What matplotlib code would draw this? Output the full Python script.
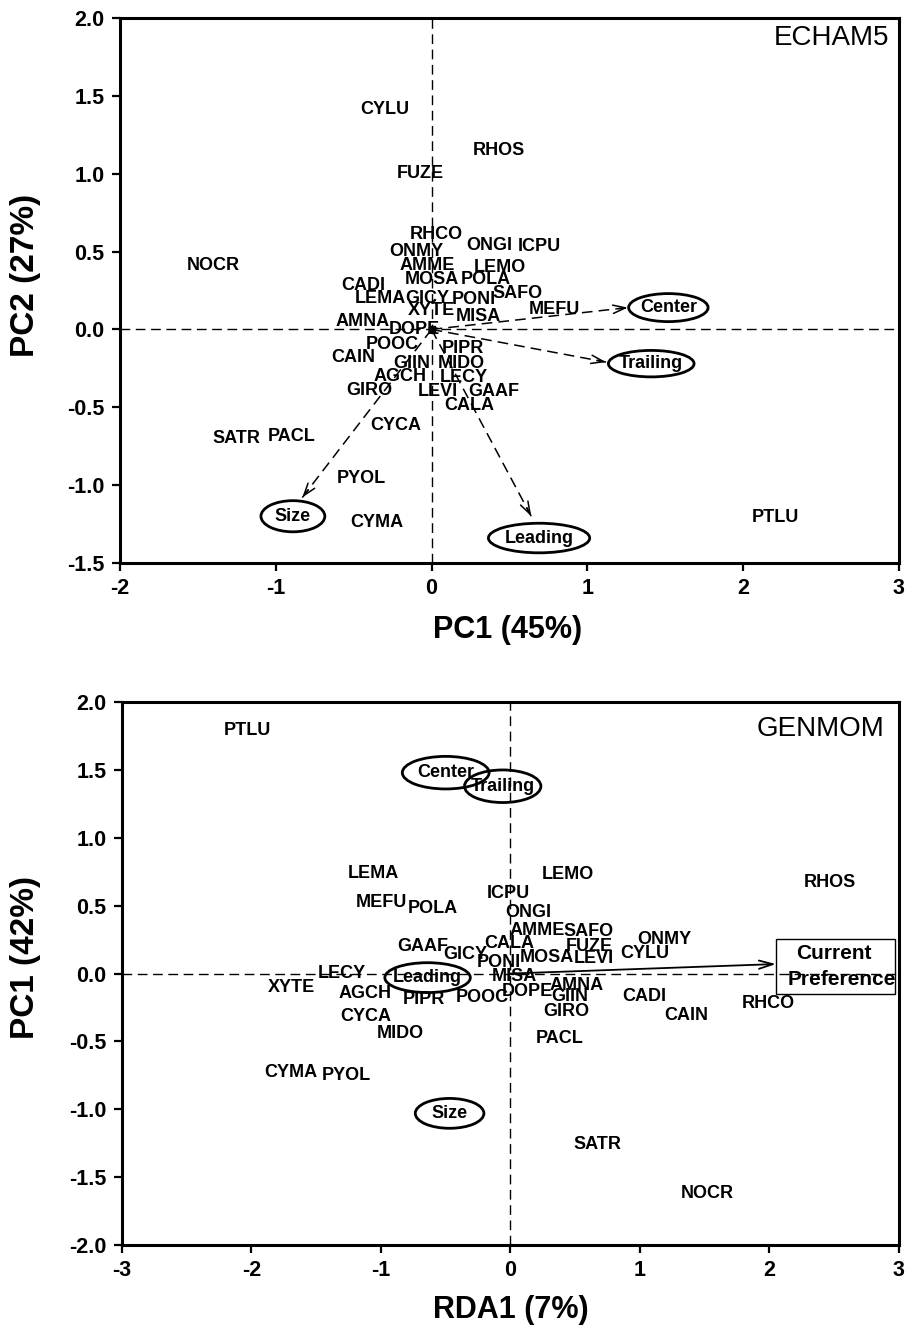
import matplotlib
matplotlib.use("Agg")
import matplotlib.pyplot as plt
from matplotlib.patches import Ellipse, Rectangle
import numpy as np

plt.rcParams['font.family'] = ['Liberation Sans', 'DejaVu Sans']
plt.rcParams['font.weight'] = 'bold'

# ---------------- Top panel (ECHAM5) ----------------
top_species = ["CYLU", "RHOS", "FUZE", "NOCR", "RHCO", "ONMY", "ONGI", "ICPU",
               "AMME", "LEMO", "MOSA", "POLA", "CADI", "LEMA", "GICY", "PONI",
               "SAFO", "MEFU", "XYTE", "MISA", "AMNA", "DOPE", "POOC", "PIPR",
               "CAIN", "GIIN", "MIDO", "AGCH", "LECY", "GIRO", "LEVI", "GAAF",
               "CALA", "CYCA", "SATR", "PACL", "PYOL", "CYMA", "PTLU"]
top_x = [-0.30, 0.43, -0.07, -1.40, 0.03, -0.10, 0.37, 0.69,
         -0.03, 0.44, 0.00, 0.35, -0.44, -0.33, -0.03, 0.27,
         0.55, 0.79, 0.00, 0.30, -0.44, -0.11, -0.25, 0.20,
         -0.50, -0.13, 0.19, -0.20, 0.21, -0.40, 0.04, 0.40,
         0.24, -0.23, -1.25, -0.90, -0.45, -0.35, 2.21]
top_y = [1.41, 1.15, 1.00, 0.41, 0.61, 0.50, 0.54, 0.53,
         0.41, 0.40, 0.32, 0.32, 0.28, 0.20, 0.20, 0.19,
         0.23, 0.13, 0.12, 0.08, 0.05, 0.00, -0.10, -0.12,
         -0.18, -0.22, -0.22, -0.30, -0.31, -0.39, -0.40, -0.40,
         -0.49, -0.62, -0.70, -0.69, -0.96, -1.24, -1.21]

top_env = ["Center", "Trailing", "Size", "Leading"]
top_env_x = [1.52, 1.41, -0.89, 0.69]
top_env_y = [0.14, -0.22, -1.20, -1.34]
top_env_w = [0.51, 0.55, 0.41, 0.65]
top_env_h = [0.18, 0.17, 0.20, 0.19]
top_tip_x = [1.26, 1.12, -0.83, 0.64]
top_tip_y = [0.14, -0.21, -1.08, -1.20]

# ---------------- Bottom panel (GENMOM) ----------------
bot_species = ["PTLU", "LEMA", "LEMO", "RHOS", "MEFU", "POLA", "ICPU", "ONGI",
               "AMME", "SAFO", "ONMY", "CALA", "FUZE", "CYLU", "MOSA", "LEVI",
               "PONI", "MISA", "AMNA", "DOPE", "GIIN", "POOC", "GIRO", "CADI",
               "CAIN", "RHCO", "PACL", "GAAF", "GICY", "LECY", "XYTE", "AGCH",
               "PIPR", "CYCA", "MIDO", "CYMA", "PYOL", "SATR", "NOCR"]
bot_x = [-2.03, -1.06, 0.44, 2.47, -1.00, -0.60, -0.02, 0.14,
         0.21, 0.60, 1.19, -0.01, 0.61, 1.04, 0.28, 0.64,
         -0.09, 0.03, 0.51, 0.13, 0.46, -0.22, 0.43, 1.03,
         1.36, 1.99, 0.38, -0.68, -0.35, -1.30, -1.69, -1.12,
         -0.67, -1.12, -0.85, -1.70, -1.27, 0.67, 1.52]
bot_y = [1.79, 0.74, 0.73, 0.67, 0.52, 0.48, 0.59, 0.45,
         0.32, 0.31, 0.25, 0.22, 0.20, 0.15, 0.12, 0.11,
         0.08, -0.02, -0.09, -0.13, -0.17, -0.18, -0.28, -0.17,
         -0.31, -0.22, -0.48, 0.20, 0.14, 0.00, -0.10, -0.15,
         -0.19, -0.32, -0.44, -0.73, -0.75, -1.26, -1.62]

bot_env = ["Center", "Trailing", "Leading", "Size"]
bot_env_x = [-0.50, -0.06, -0.64, -0.47]
bot_env_y = [1.48, 1.38, -0.03, -1.03]
bot_env_w = [0.67, 0.59, 0.66, 0.53]
bot_env_h = [0.24, 0.24, 0.22, 0.22]

cur_tip = (2.05, 0.07)
cur_box = (2.05, -0.151, 0.92, 0.405)  # x, y, width, height

FS = 13
DASH = (0, (7, 4))


def style_axes(ax, xlim, ylim, xticks, yticks, yfmt):
    ax.set_xlim(*xlim)
    ax.set_ylim(*ylim)
    ax.set_xticks(xticks)
    ax.set_yticks(yticks)
    ax.set_xticklabels([f"{t:g}" for t in xticks])
    ax.set_yticklabels([yfmt.format(t) for t in yticks])
    for s in ax.spines.values():
        s.set_linewidth(2.2)
    ax.tick_params(direction='out', length=6, width=1.6, labelsize=15.5, pad=5)
    for lab in ax.get_xticklabels() + ax.get_yticklabels():
        lab.set_fontweight('bold')
    ax.axhline(0, color='k', lw=1.0, ls=DASH, zorder=1)
    ax.axvline(0, color='k', lw=1.0, ls=DASH, zorder=1)


def open_head(ax, x0, y0, tx, ty):
    d = np.hypot(tx - x0, ty - y0)
    f = 0.06 / d
    ax.annotate('', xy=(tx, ty), xytext=(tx - f * (tx - x0), ty - f * (ty - y0)),
                arrowprops=dict(arrowstyle='->,head_length=0.9,head_width=0.3',
                                lw=1.1, color='k', shrinkA=0, shrinkB=0))


fig = plt.figure(figsize=(9.13, 13.34), dpi=100)

# ---- Top ----
ax1 = fig.add_axes([0.1314, 0.578, 0.8532, 0.4085])
style_axes(ax1, (-2, 3), (-1.5, 2.0), [-2, -1, 0, 1, 2, 3],
           [-1.5, -1.0, -0.5, 0.0, 0.5, 1.0, 1.5, 2.0], "{:.1f}")
for s, x, y in zip(top_species, top_x, top_y):
    ax1.text(x, y, s, ha='center', va='center', fontsize=FS, fontweight='bold', zorder=3)
for lab, ex, ey, ew, eh, tx, ty in zip(top_env, top_env_x, top_env_y, top_env_w,
                                        top_env_h, top_tip_x, top_tip_y):
    ax1.plot([0, tx], [0, ty], color='k', lw=1.1, ls=DASH, zorder=2)
    open_head(ax1, 0, 0, tx, ty)
    ax1.add_patch(Ellipse((ex, ey), ew, eh, fill=False, lw=2.0, ec='k', zorder=4))
    ax1.text(ex, ey, lab, ha='center', va='center', fontsize=FS, fontweight='bold', zorder=5)
ax1.plot([0], [0], marker='s', color='k', ms=4, zorder=4)
ax1.text(0.987, 0.963, "ECHAM5", transform=ax1.transAxes, ha='right', va='center',
         fontsize=20, fontweight='normal')
ax1.text(0.498, -0.123, "PC1 (45%)", transform=ax1.transAxes, ha='center', va='center',
         fontsize=22, fontweight='bold')
ax1.text(-0.121, 0.528, "PC2 (27%)", transform=ax1.transAxes, ha='center', va='center',
         rotation=90, fontsize=24, fontweight='bold')

# ---- Bottom ----
ax2 = fig.add_axes([0.1336, 0.0667, 0.851, 0.407])
style_axes(ax2, (-3, 3), (-2.0, 2.0), [-3, -2, -1, 0, 1, 2, 3],
           [-2.0, -1.5, -1.0, -0.5, 0.0, 0.5, 1.0, 1.5, 2.0], "{:.1f}")
for s, x, y in zip(bot_species, bot_x, bot_y):
    ax2.text(x, y, s, ha='center', va='center', fontsize=FS, fontweight='bold', zorder=3)
for lab, ex, ey, ew, eh in zip(bot_env, bot_env_x, bot_env_y, bot_env_w, bot_env_h):
    ax2.add_patch(Ellipse((ex, ey), ew, eh, fill=False, lw=2.0, ec='k', zorder=4))
    ax2.text(ex, ey, lab, ha='center', va='center', fontsize=FS, fontweight='bold', zorder=5)
ax2.annotate('', xy=cur_tip, xytext=(0, 0),
             arrowprops=dict(arrowstyle='->,head_length=1.0,head_width=0.3',
                             lw=1.3, color='k', shrinkA=0, shrinkB=0), zorder=3)
bx, by, bw, bh = cur_box
ax2.add_patch(Rectangle((bx, by), bw, bh, fill=False, lw=1.0, ec='k', zorder=4))
ax2.text(bx + bw / 2 - 0.01, by + bh * 0.73, "Current", ha='center', va='center',
         fontsize=15, fontweight='bold', zorder=5)
ax2.text(bx + bw / 2 + 0.05, by + bh * 0.27, "Preference", ha='center', va='center',
         fontsize=15, fontweight='bold', zorder=5)
ax2.text(0.981, 0.950, "GENMOM", transform=ax2.transAxes, ha='right', va='center',
         fontsize=20, fontweight='normal')
ax2.text(0.5, -0.12, "RDA1 (7%)", transform=ax2.transAxes, ha='center', va='center',
         fontsize=22, fontweight='bold')
ax2.text(-0.124, 0.529, "PC1 (42%)", transform=ax2.transAxes, ha='center', va='center',
         rotation=90, fontsize=24, fontweight='bold')

fig.savefig("out.png", dpi=100)
